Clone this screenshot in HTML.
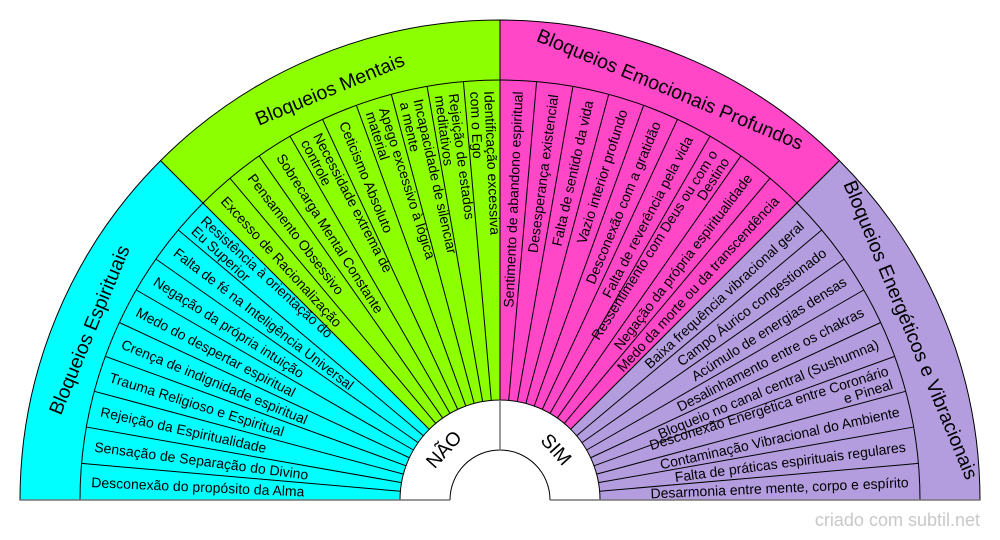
<!DOCTYPE html>
<html><head><meta charset="utf-8"><style>
html,body{margin:0;padding:0;background:#fff;}
svg{display:block;}
text{font-family:"Liberation Sans",sans-serif;fill:#000;}
.i{font-size:14px;dominant-baseline:central;}
.c{font-size:19.5px;dominant-baseline:central;text-anchor:middle;}
</style></head><body>
<svg width="1000" height="540" viewBox="0 0 1000 540" xmlns="http://www.w3.org/2000/svg">
<g stroke="#000" stroke-width="1">
<path d="M20,500 A480,480 0 0 1 160.6,160.6 L429.3,429.3 A100,100 0 0 0 400,500 Z" fill="#00ffff"/>
<path d="M160.6,160.6 A480,480 0 0 1 500,20 L500,400 A100,100 0 0 0 429.3,429.3 Z" fill="#8cff00"/>
<path d="M500,20 A480,480 0 0 1 839.4,160.6 L570.7,429.3 A100,100 0 0 0 500,400 Z" fill="#ff47c8"/>
<path d="M839.4,160.6 A480,480 0 0 1 980,500 L600,500 A100,100 0 0 0 570.7,429.3 Z" fill="#b49ddf"/>
<path d="M80,500 A420,420 0 0 1 920,500" fill="none"/>
<path d="M450,500 A50,50 0 0 1 550,500" fill="none"/>
</g>
<g stroke="#000" stroke-width="1">
<line x1="80" y1="500" x2="400" y2="500" transform="rotate(5 500 500)"/>
<line x1="80" y1="500" x2="400" y2="500" transform="rotate(10 500 500)"/>
<line x1="80" y1="500" x2="400" y2="500" transform="rotate(15 500 500)"/>
<line x1="80" y1="500" x2="400" y2="500" transform="rotate(20 500 500)"/>
<line x1="80" y1="500" x2="400" y2="500" transform="rotate(25 500 500)"/>
<line x1="80" y1="500" x2="400" y2="500" transform="rotate(30 500 500)"/>
<line x1="80" y1="500" x2="400" y2="500" transform="rotate(35 500 500)"/>
<line x1="80" y1="500" x2="400" y2="500" transform="rotate(40 500 500)"/>
<line x1="80" y1="500" x2="400" y2="500" transform="rotate(50 500 500)"/>
<line x1="80" y1="500" x2="400" y2="500" transform="rotate(55 500 500)"/>
<line x1="80" y1="500" x2="400" y2="500" transform="rotate(60 500 500)"/>
<line x1="80" y1="500" x2="400" y2="500" transform="rotate(65 500 500)"/>
<line x1="80" y1="500" x2="400" y2="500" transform="rotate(70 500 500)"/>
<line x1="80" y1="500" x2="400" y2="500" transform="rotate(75 500 500)"/>
<line x1="80" y1="500" x2="400" y2="500" transform="rotate(80 500 500)"/>
<line x1="80" y1="500" x2="400" y2="500" transform="rotate(85 500 500)"/>
<line x1="80" y1="500" x2="400" y2="500" transform="rotate(95 500 500)"/>
<line x1="80" y1="500" x2="400" y2="500" transform="rotate(100 500 500)"/>
<line x1="80" y1="500" x2="400" y2="500" transform="rotate(105 500 500)"/>
<line x1="80" y1="500" x2="400" y2="500" transform="rotate(110 500 500)"/>
<line x1="80" y1="500" x2="400" y2="500" transform="rotate(115 500 500)"/>
<line x1="80" y1="500" x2="400" y2="500" transform="rotate(120 500 500)"/>
<line x1="80" y1="500" x2="400" y2="500" transform="rotate(125 500 500)"/>
<line x1="80" y1="500" x2="400" y2="500" transform="rotate(130 500 500)"/>
<line x1="80" y1="500" x2="400" y2="500" transform="rotate(140 500 500)"/>
<line x1="80" y1="500" x2="400" y2="500" transform="rotate(145 500 500)"/>
<line x1="80" y1="500" x2="400" y2="500" transform="rotate(150 500 500)"/>
<line x1="80" y1="500" x2="400" y2="500" transform="rotate(155 500 500)"/>
<line x1="80" y1="500" x2="400" y2="500" transform="rotate(160 500 500)"/>
<line x1="80" y1="500" x2="400" y2="500" transform="rotate(165 500 500)"/>
<line x1="80" y1="500" x2="400" y2="500" transform="rotate(170 500 500)"/>
<line x1="80" y1="500" x2="400" y2="500" transform="rotate(175 500 500)"/>
</g>
<g stroke="#777" stroke-width="1.5">
<line x1="500" y1="400" x2="500" y2="450"/>
<line x1="20" y1="500" x2="450" y2="500"/>
<line x1="550" y1="500" x2="980" y2="500"/>
</g>
<text class="c" x="500" y="56" transform="rotate(-67.5 500 500)">Bloqueios Espirituais</text>
<text class="c" x="500" y="56" transform="rotate(-22.5 500 500)">Bloqueios Mentais</text>
<text class="c" x="500" y="56" transform="rotate(22.5 500 500)">Bloqueios Emocionais Profundos</text>
<text class="c" x="500" y="56" transform="rotate(67.5 500 500)">Bloqueios Energéticos e Vibracionais</text>
<g>
<text class="i" x="91" y="500" transform="rotate(2.5 500 500)">Desconexão do propósito da Alma</text>
<text class="i" x="91" y="500" transform="rotate(7.5 500 500)">Sensação de Separação do Divino</text>
<text class="i" x="91" y="500" transform="rotate(12.5 500 500)">Rejeição da Espiritualidade</text>
<text class="i" x="91" y="500" transform="rotate(17.5 500 500)">Trauma Religioso e Espiritual</text>
<text class="i" x="91" y="500" transform="rotate(22.5 500 500)">Crença de indignidade espiritual</text>
<text class="i" x="91" y="500" transform="rotate(27.5 500 500)">Medo do despertar espiritual</text>
<text class="i" x="91" y="500" transform="rotate(32.5 500 500)">Negação da própria intuição</text>
<text class="i" x="91" y="500" transform="rotate(37.5 500 500)">Falta de fé na Inteligência Universal</text>
<text class="i" x="91" y="493" transform="rotate(42.5 500 500)">Resistência à orientação do</text>
<text class="i" x="91" y="507" transform="rotate(42.5 500 500)">Eu Superior</text>
<text class="i" x="91" y="500" transform="rotate(47.5 500 500)">Excesso de Racionalização</text>
<text class="i" x="91" y="500" transform="rotate(52.5 500 500)">Pensamento Obsessivo</text>
<text class="i" x="91" y="500" transform="rotate(57.5 500 500)">Sobrecarga Mental Constante</text>
<text class="i" x="91" y="493" transform="rotate(62.5 500 500)">Necessidade extrema de</text>
<text class="i" x="91" y="507" transform="rotate(62.5 500 500)">controle</text>
<text class="i" x="91" y="500" transform="rotate(67.5 500 500)">Ceticismo Absoluto</text>
<text class="i" x="91" y="493" transform="rotate(72.5 500 500)">Apego excessivo à lógica</text>
<text class="i" x="91" y="507" transform="rotate(72.5 500 500)">material</text>
<text class="i" x="91" y="493" transform="rotate(77.5 500 500)">Incapacidade de silenciar</text>
<text class="i" x="91" y="507" transform="rotate(77.5 500 500)">a mente</text>
<text class="i" x="91" y="493" transform="rotate(82.5 500 500)">Rejeição de estados</text>
<text class="i" x="91" y="507" transform="rotate(82.5 500 500)">meditativos</text>
<text class="i" x="91" y="493" transform="rotate(87.5 500 500)">Identificação excessiva</text>
<text class="i" x="91" y="507" transform="rotate(87.5 500 500)">com o Ego</text>
</g>
<g>
<text class="i" x="909" y="500" text-anchor="end" transform="rotate(-87.5 500 500)">Sentimento de abandono espiritual</text>
<text class="i" x="909" y="500" text-anchor="end" transform="rotate(-82.5 500 500)">Desesperança existencial</text>
<text class="i" x="909" y="500" text-anchor="end" transform="rotate(-77.5 500 500)">Falta de sentido da vida</text>
<text class="i" x="909" y="500" text-anchor="end" transform="rotate(-72.5 500 500)">Vazio interior profundo</text>
<text class="i" x="909" y="500" text-anchor="end" transform="rotate(-67.5 500 500)">Desconexão com a gratidão</text>
<text class="i" x="909" y="500" text-anchor="end" transform="rotate(-62.5 500 500)">Falta de reverência pela vida</text>
<text class="i" x="909" y="493" text-anchor="end" transform="rotate(-57.5 500 500)">Ressentimento com Deus ou com o</text>
<text class="i" x="909" y="507" text-anchor="end" transform="rotate(-57.5 500 500)">Destino</text>
<text class="i" x="909" y="500" text-anchor="end" transform="rotate(-52.5 500 500)">Negação da própria espiritualidade</text>
<text class="i" x="909" y="500" text-anchor="end" transform="rotate(-47.5 500 500)">Medo da morte ou da transcendência</text>
<text class="i" x="909" y="500" text-anchor="end" transform="rotate(-42.5 500 500)">Baixa frequência vibracional geral</text>
<text class="i" x="909" y="500" text-anchor="end" transform="rotate(-37.5 500 500)">Campo Áurico congestionado</text>
<text class="i" x="909" y="500" text-anchor="end" transform="rotate(-32.5 500 500)">Acúmulo de energias densas</text>
<text class="i" x="909" y="500" text-anchor="end" transform="rotate(-27.5 500 500)">Desalinhamento entre os chakras</text>
<text class="i" x="909" y="500" text-anchor="end" transform="rotate(-22.5 500 500)">Bloqueio no canal central (Sushumna)</text>
<text class="i" x="909" y="493" text-anchor="end" transform="rotate(-17.5 500 500)">Desconexão Energética entre Coronário</text>
<text class="i" x="909" y="507" text-anchor="end" transform="rotate(-17.5 500 500)">e Pineal</text>
<text class="i" x="909" y="500" text-anchor="end" transform="rotate(-12.5 500 500)">Contaminação Vibracional do Ambiente</text>
<text class="i" x="909" y="500" text-anchor="end" transform="rotate(-7.5 500 500)">Falta de práticas espirituais regulares</text>
<text class="i" x="909" y="500" text-anchor="end" transform="rotate(-2.5 500 500)">Desarmonia entre mente, corpo e espírito</text>
</g>
<text class="c" x="500" y="425" transform="rotate(-48 500 500)">NÃO</text>
<text class="c" x="500" y="425" transform="rotate(48 500 500)">SIM</text>
<text x="980" y="526" text-anchor="end" style="font-size:18px;fill:#c8c8c8;">criado com subtil.net</text>
</svg>
</body></html>
